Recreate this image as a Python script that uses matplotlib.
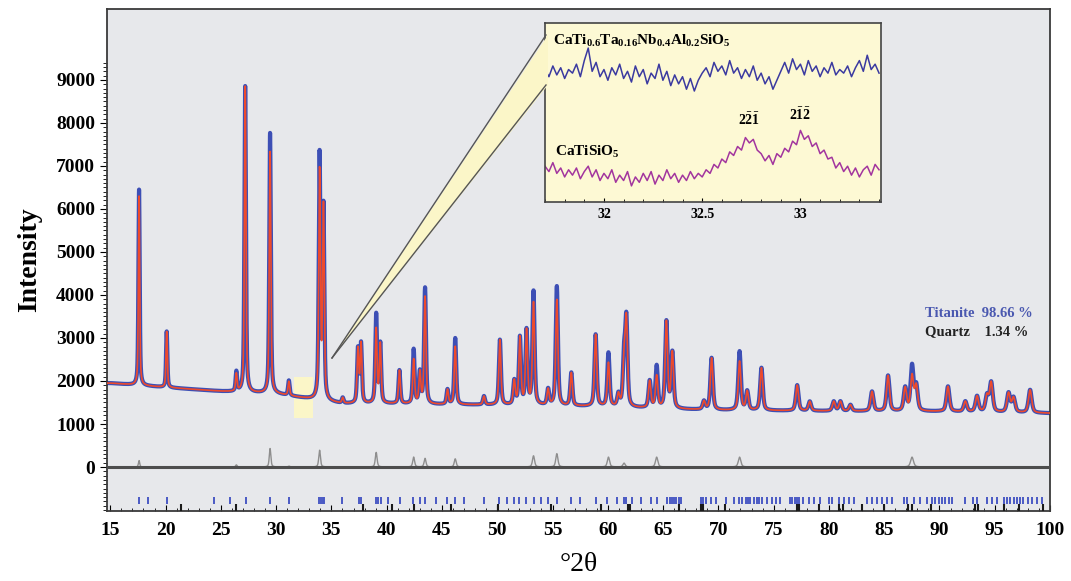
import numpy as np
import matplotlib
matplotlib.use("Agg")
import matplotlib.pyplot as plt
from matplotlib.patches import Polygon, Rectangle
from matplotlib.lines import Line2D

plt.rcParams['font.family'] = ['Liberation Serif', 'DejaVu Serif']
plt.rcParams['mathtext.fontset'] = 'custom'
plt.rcParams['mathtext.rm'] = 'Liberation Serif'
plt.rcParams['mathtext.bf'] = 'Liberation Serif:bold'

# background of the pattern (2theta, counts)
bg_tth = [15, 20, 25, 30, 33, 36, 40, 45, 50, 55, 60, 65, 70, 80, 90, 100]
bg_int = [1950, 1850, 1760, 1700, 1580, 1470, 1470, 1450, 1440, 1420, 1400, 1350, 1320, 1300, 1290, 1250]

pk_pos = [17.60, 20.10, 26.40, 27.20, 29.45, 31.15, 33.93, 34.28, 36.02, 37.40,
          37.68, 39.05, 39.42, 41.15, 42.44, 43.00, 43.47, 45.50, 46.20, 48.80,
          50.24, 51.54, 52.05, 52.65, 53.28, 54.60, 55.39, 56.70, 58.90, 60.06,
          60.96, 61.47, 61.68, 63.79, 64.42, 65.30, 65.84, 68.70, 69.39, 71.92,
          72.61, 73.90, 77.13, 78.27, 80.44, 81.04, 81.95, 83.90, 85.35, 86.90,
          87.52, 87.90, 90.77, 92.34, 93.40, 94.30, 94.68, 96.25, 96.70, 98.20]
pk_calc = [6300, 3150, 2150, 8850, 7330, 1980, 6830, 6000, 1600, 2720,
           2840, 3190, 2840, 2240, 2490, 2180, 3950, 1790, 2800, 1640,
           2950, 1985, 2990, 3150, 3800, 1790, 3880, 2180, 3070, 2410,
           1670, 2400, 3360, 1985, 2100, 3360, 2640, 1520, 2530, 2450,
           1750, 2300, 1900, 1520, 1520, 1520, 1440, 1750, 2120, 1830,
           2100, 1870, 1870, 1520, 1640, 1640, 1950, 1710, 1600, 1790]
pk_obs = [6450, 3150, 2200, 8850, 7760, 2000, 7220, 6000, 1600, 2720,
          2840, 3530, 2840, 2240, 2720, 2180, 4150, 1790, 2990, 1640,
          2950, 1985, 2990, 3150, 4060, 1790, 4190, 2180, 3070, 2640,
          1670, 2490, 3360, 1985, 2330, 3360, 2640, 1520, 2530, 2680,
          1750, 2300, 1900, 1520, 1520, 1520, 1440, 1750, 2120, 1830,
          2330, 1870, 1870, 1520, 1640, 1640, 1950, 1710, 1600, 1790]

# reflection markers
titanite_ticks = [17.59, 18.40, 20.16, 24.34, 25.79, 27.24, 29.47, 31.20, 33.90, 34.05,
                  34.20, 34.35, 36.00, 37.50, 37.70, 39.00, 39.20, 39.50, 40.10, 41.20,
                  42.40, 43.00, 43.45, 44.50, 45.50, 46.20, 47.00, 48.80, 50.20, 50.90,
                  51.50, 52.00, 52.60, 53.30, 54.00, 54.60, 55.40, 56.70, 57.50, 58.90,
                  59.96, 60.87, 61.47, 61.62, 62.22, 62.97, 63.88, 64.48, 65.40, 65.60,
                  65.80, 66.00, 66.20, 66.40, 66.60, 68.40, 68.60, 68.85, 69.30, 69.75,
                  70.65, 71.40, 71.85, 72.16, 72.46, 72.70, 72.90, 73.20, 73.50, 73.66,
                  73.96, 74.40, 74.87, 75.17, 75.62, 76.50, 76.70, 76.90, 77.10, 77.30,
                  77.70, 78.18, 78.63, 79.23, 79.99, 80.29, 80.89, 81.34, 81.79, 82.25,
                  83.45, 83.90, 84.35, 84.80, 85.25, 85.70, 86.76, 87.06, 87.67, 88.27,
                  88.87, 89.32, 89.62, 89.92, 90.23, 90.53, 90.83, 91.13, 92.33, 93.08,
                  93.39, 94.29, 94.74, 95.20, 95.80, 96.10, 96.40, 96.70, 97.00, 97.30,
                  97.60, 98.05, 98.35, 98.80, 99.26]
quartz_ticks = [21.42, 26.39, 37.83, 40.50, 42.50, 45.80, 50.10, 54.90, 59.40, 61.80,
                62.00, 66.40, 68.40, 68.60, 70.60, 77.10, 77.30, 79.10, 80.90, 81.30,
                83.00, 85.00, 87.20, 87.50, 89.20, 93.20, 93.50, 95.80, 97.20, 99.40]

# zoomed window 31.7-33.4 deg (arbitrary units)
ins_tth = np.round(np.arange(31.70, 33.401, 0.02), 2)
ins_doped = [74, 70, 76, 71, 75, 69, 74, 72, 77, 70,
             79, 86, 73, 78, 70, 74, 68, 75, 71, 77,
             69, 73, 67, 76, 70, 74, 66, 72, 69, 77,
             68, 73, 65, 71, 66, 70, 63, 69, 62, 68,
             72, 75, 70, 78, 73, 76, 71, 79, 72, 75,
             69, 74, 70, 76, 68, 72, 66, 70, 63, 68,
             73, 78, 72, 80, 74, 77, 71, 79, 73, 76,
             70, 75, 72, 78, 71, 74, 72, 76, 70, 75,
             79, 73, 82, 74, 77, 72]
ins_pure = [20, 17, 22, 16, 19, 14, 18, 15, 19, 13,
            17, 20, 14, 18, 12, 16, 13, 18, 11, 15,
            12, 17, 9, 14, 11, 16, 12, 17, 10, 15,
            12, 18, 13, 16, 11, 15, 12, 17, 13, 16,
            14, 18, 16, 21, 19, 24, 22, 28, 26, 31,
            29, 36, 33, 35, 29, 27, 23, 26, 21, 27,
            25, 30, 28, 34, 32, 40, 35, 37, 31, 33,
            27, 29, 24, 25, 19, 22, 17, 20, 15, 19,
            14, 18, 20, 15, 21, 18]

tth = np.arange(14.7, 100.0, 0.01)
bg = np.interp(tth, bg_tth, bg_int)


def profile(tops):
    y = bg.copy()
    for p, t in zip(pk_pos, tops):
        w = 0.13 + 0.0025 * (p - 15)
        amp = t - np.interp(p, bg_tth, bg_int)
        d = (tth - p) / (w / 2)
        y += amp * (0.55 / (1 + d ** 2) + 0.45 * np.exp(-np.log(2) * d ** 2))
    return y


calc = profile(pk_calc)
obs = profile(pk_obs)
diff = obs - calc

W, H = 1071, 581
fig = plt.figure(figsize=(10.71, 5.81), dpi=100)
ax = fig.add_axes([107 / W, 1 - 511 / H, (1050 - 107) / W, (511 - 9) / H])
ax.set_facecolor('#e7e8eb')

ax.add_patch(Rectangle((31.65, 1130), 1.65, 970, facecolor='#fbf6c8', edgecolor='none', zorder=1))
ax.plot(tth, obs, color='#3d4fb5', lw=3.0, zorder=2)
ax.plot(tth, calc, color='#ee4a2c', lw=1.2, zorder=3)
ax.plot(tth, diff, color='#8e8e8e', lw=1.0, zorder=2)
ax.axhline(0, color='#4d4d4d', lw=2.2, zorder=3)
ax.vlines(titanite_ticks, -870, -690, color='#4a5ac4', lw=1.4, zorder=2)
ax.vlines(quartz_ticks, -1023, -850, color='#1a1a1a', lw=1.5, zorder=3)

ax.set_xlim(14.7, 100)
ax.set_ylim(-1023, 10650)
ax.set_xticks(range(15, 101, 5))
ax.set_xticks(range(15, 101, 1), minor=True)
ax.set_yticks(range(0, 10000, 1000))
ax.set_yticks(range(-1000, 9500, 100), minor=True)
ax.tick_params(axis='x', which='major', direction='in', length=4, labelsize=14, pad=8)
ax.tick_params(axis='x', which='minor', direction='in', length=2)
ax.tick_params(axis='y', which='major', direction='out', length=5, labelsize=14)
ax.tick_params(axis='y', which='minor', direction='out', length=3)
for lab in ax.get_xticklabels() + ax.get_yticklabels():
    lab.set_fontweight('bold')
for s in ax.spines.values():
    s.set_color('#3a3a3a')
    s.set_linewidth(1.3)

ax.set_ylabel('Intensity', fontsize=20, fontweight='bold', labelpad=10)
ax.set_xlabel('°2θ', fontsize=20, labelpad=9)

ax.text(0.867, 0.394, 'Titanite  98.66 %', transform=ax.transAxes, color='#4a58b0',
        fontsize=10.5, fontweight='bold', va='center')
ax.text(0.867, 0.357, 'Quartz    1.34 %', transform=ax.transAxes, color='#222222',
        fontsize=10.5, fontweight='bold', va='center')

ins = fig.add_axes([545 / W, 1 - 202 / H, (881 - 545) / W, (202 - 23) / H], zorder=6)
ins.set_facecolor('#fdf9d4')
ins.plot(ins_tth, ins_doped, color='#3b3aa0', lw=1.1)
ins.plot(ins_tth, ins_pure, color='#a2359e', lw=1.1)
ins.set_xlim(31.7, 33.41)
ins.set_ylim(0, 100)
ins.set_yticks([])
ins.set_xticks([32, 32.5, 33])
ins.set_xticklabels(['32', '32.5', '33'])
ins.set_xticks(np.arange(31.7, 33.41, 0.1), minor=True)
ins.tick_params(axis='x', which='major', direction='in', length=3, labelsize=10, pad=4)
ins.tick_params(axis='x', which='minor', direction='in', length=2)
for lab in ins.get_xticklabels():
    lab.set_fontweight('bold')
for s in ins.spines.values():
    s.set_color('#444444')
    s.set_linewidth(1.2)

ins.text(0.025, 0.90, r'$\mathbf{CaTi_{0.6}Ta_{0.16}Nb_{0.4}Al_{0.2}SiO_{5}}$', transform=ins.transAxes,
         fontsize=11, va='center')
ins.text(0.03, 0.28, r'$\mathbf{CaTiSiO_{5}}$', transform=ins.transAxes, fontsize=11, va='center')
ins.text(32.74, 43, r'$\mathbf{2\bar{2}\bar{1}}$', fontsize=10, ha='center')
ins.text(33.0, 46, r'$\mathbf{2\bar{1}\bar{2}}$', fontsize=10, ha='center')

# callout wedge, drawn over the inset's left border to open it
apex = (332 / W, 1 - 358 / H)
top = (548 / W, 1 - 35 / H)
bot = (548 / W, 1 - 85 / H)
fig.patches.append(Polygon([apex, top, bot], closed=True, transform=fig.transFigure,
                           facecolor='#fbf6c8', edgecolor='none', zorder=7))
for end in (top, bot):
    fig.lines.append(Line2D([apex[0], end[0] - 2 / W], [apex[1], end[1]], transform=fig.transFigure,
                            color='#555555', lw=1.0, zorder=8))

fig.savefig('out.png', dpi=100)
